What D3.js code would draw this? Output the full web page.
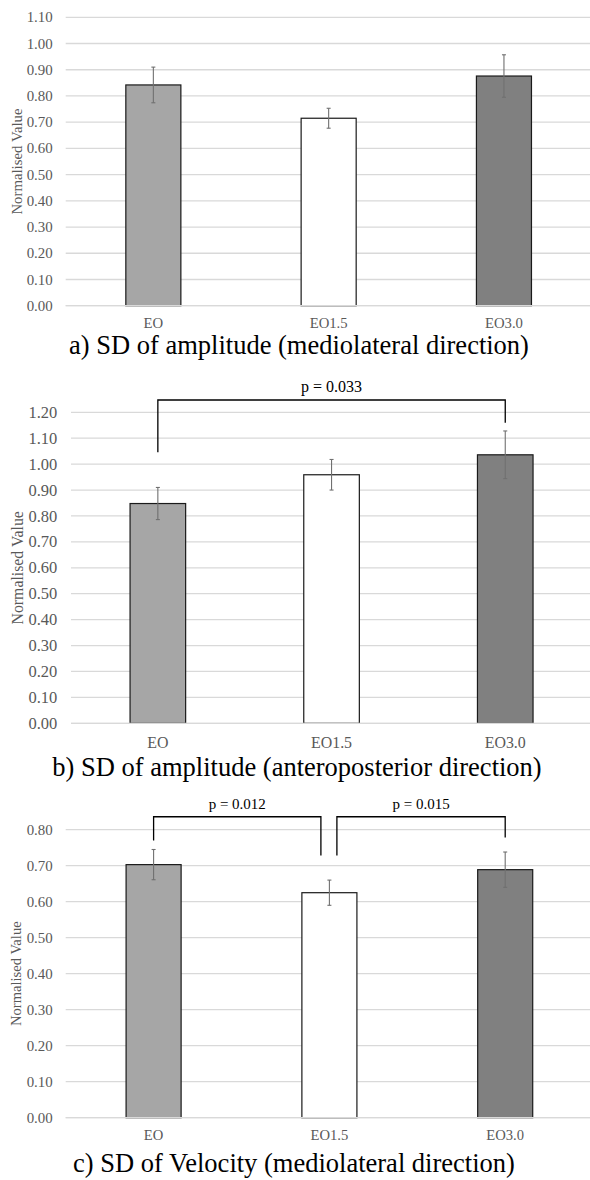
<!DOCTYPE html>
<html>
<head>
<meta charset="utf-8">
<script src="https://cdn.jsdelivr.net/npm/d3@7/dist/d3.min.js"></script>
<style>
  html, body { margin: 0; padding: 0; background: #ffffff; }
  svg { display: block; }
  text { font-family: "Liberation Serif", "Times New Roman", serif; }
</style>
</head>
<body>
<svg id="chart" width="590" height="1180"></svg>
<script>
// Conditions shown on every panel
const categories = ["EO", "EO1.5", "EO3.0"];
const barColors = ["#a6a6a6", "#ffffff", "#808080"];

// a) SD of amplitude, mediolateral
const mlAmpMeans = [0.842, 0.715, 0.876];
const mlAmpErrors = [0.068, 0.038, 0.081];
const mlAmpTicks = [0, 0.1, 0.2, 0.3, 0.4, 0.5, 0.6, 0.7, 0.8, 0.9, 1.0, 1.1];

// b) SD of amplitude, anteroposterior
const apAmpMeans = [0.848, 0.959, 1.036];
const apAmpErrors = [0.062, 0.059, 0.092];
const apAmpTicks = [0, 0.1, 0.2, 0.3, 0.4, 0.5, 0.6, 0.7, 0.8, 0.9, 1.0, 1.1, 1.2];
const apAmpPairs = [[0, 2]];
const apAmpPLabels = ["p = 0.033"];

// c) SD of velocity, mediolateral
const mlVelMeans = [0.703, 0.625, 0.689];
const mlVelErrors = [0.042, 0.035, 0.049];
const mlVelTicks = [0, 0.1, 0.2, 0.3, 0.4, 0.5, 0.6, 0.7, 0.8];
const mlVelPairs = [[0, 1], [1, 2]];
const mlVelPLabels = ["p = 0.012", "p = 0.015"];

const axisTitle = "Normalised Value";

const svg = d3.select("#chart");

const panels = [
  {
    title: "a) SD of amplitude (mediolateral direction)",
    means: mlAmpMeans, errors: mlAmpErrors, ticks: mlAmpTicks,
    pairs: [], pLabels: [],
    x0: 65.7, step: 175.3, pad: 0.686,
    yTop: 17.3, yBottom: 305.7, yMax: 1.1,
    tickFont: 14.9, tickRight: 52.7, catFont: 14.7, catOffset: 22.3,
    titleX: 16.5, titleFont: 14.8,
    capY: 354, capX: 299,
    brackets: []
  },
  {
    title: "b) SD of amplitude (anteroposterior direction)",
    means: apAmpMeans, errors: apAmpErrors, ticks: apAmpTicks,
    pairs: apAmpPairs, pLabels: apAmpPLabels,
    x0: 71, step: 173.7, pad: 0.68,
    yTop: 412.3, yBottom: 723.3, yMax: 1.2,
    tickFont: 16.5, tickRight: 57.3, catFont: 15.9, catOffset: 25,
    titleX: 18, titleFont: 15.8,
    capY: 776, capX: 297,
    brackets: [{ top: 1.2475, legs: [1.046, 1.16], shift: [0, 0] }],
    pFont: 16
  },
  {
    title: "c) SD of Velocity (mediolateral direction)",
    means: mlVelMeans, errors: mlVelErrors, ticks: mlVelTicks,
    pairs: mlVelPairs, pLabels: mlVelPLabels,
    x0: 65.7, step: 175.8, pad: 0.687,
    yTop: 829.7, yBottom: 1117.7, yMax: 0.8,
    tickFont: 14.9, tickRight: 52.7, catFont: 14.6, catOffset: 22.3,
    titleX: 16.3, titleFont: 14.6,
    capY: 1172, capX: 294,
    brackets: [
      { top: 0.836, legs: [0.77, 0.728], shift: [0, -8.5] },
      { top: 0.836, legs: [0.728, 0.778], shift: [7.5, 0] }
    ],
    pFont: 15
  }
];

panels.forEach(p => {
  const g = svg.append("g");

  const x = d3.scaleBand()
    .domain(categories)
    .range([p.x0, p.x0 + p.step * categories.length])
    .paddingInner(p.pad)
    .paddingOuter(p.pad / 2);

  const y = d3.scaleLinear()
    .domain([0, p.yMax])
    .range([p.yBottom, p.yTop]);

  // horizontal gridlines
  g.append("g").selectAll("line")
    .data(p.ticks)
    .join("line")
    .attr("x1", x.range()[0])
    .attr("x2", x.range()[1])
    .attr("y1", d => y(d))
    .attr("y2", d => y(d))
    .attr("stroke", "#d9d9d9")
    .attr("stroke-width", 1.3);

  // y tick labels
  g.append("g").selectAll("text")
    .data(p.ticks)
    .join("text")
    .attr("x", p.tickRight)
    .attr("y", d => y(d))
    .attr("dy", "0.34em")
    .attr("text-anchor", "end")
    .attr("font-size", p.tickFont)
    .attr("fill", "#595959")
    .text(d3.format(".2f"));

  // y axis title
  g.append("text")
    .attr("transform", `translate(${p.titleX},${(p.yTop + p.yBottom) / 2}) rotate(-90)`)
    .attr("text-anchor", "middle")
    .attr("dy", "0.34em")
    .attr("font-size", p.titleFont)
    .attr("fill", "#595959")
    .text(axisTitle);

  // bars
  g.append("g").selectAll("rect")
    .data(p.means)
    .join("rect")
    .attr("x", (d, i) => x(categories[i]))
    .attr("y", d => y(d))
    .attr("width", x.bandwidth())
    .attr("height", d => y(0) - y(d))
    .attr("fill", (d, i) => barColors[i])
    .attr("stroke", "#1a1a1a")
    .attr("stroke-width", 1.2);

  // baseline gridline drawn over the bar bottoms
  g.append("line")
    .attr("x1", x.range()[0]).attr("x2", x.range()[1])
    .attr("y1", y(0)).attr("y2", y(0))
    .attr("stroke", "#d9d9d9").attr("stroke-width", 1.3);

  // error bars
  const eb = g.append("g").attr("stroke", "#707070").attr("stroke-width", 1.1);
  p.means.forEach((m, i) => {
    const cx = x(categories[i]) + x.bandwidth() / 2;
    const hi = y(m + p.errors[i]);
    const lo = y(m - p.errors[i]);
    eb.append("line").attr("x1", cx).attr("x2", cx).attr("y1", hi).attr("y2", lo);
    eb.append("line").attr("x1", cx - 2).attr("x2", cx + 2).attr("y1", hi).attr("y2", hi);
    eb.append("line").attr("x1", cx - 2).attr("x2", cx + 2).attr("y1", lo).attr("y2", lo);
  });

  // category labels
  g.append("g").selectAll("text")
    .data(categories)
    .join("text")
    .attr("x", d => x(d) + x.bandwidth() / 2)
    .attr("y", y(0) + p.catOffset)
    .attr("text-anchor", "middle")
    .attr("font-size", p.catFont)
    .attr("fill", "#595959")
    .text(d => d);

  // significance brackets
  p.pairs.forEach((pair, k) => {
    const b = p.brackets[k];
    const xa = x(categories[pair[0]]) + x.bandwidth() / 2 + b.shift[0];
    const xb = x(categories[pair[1]]) + x.bandwidth() / 2 + b.shift[1];
    const yt = y(b.top);
    g.append("path")
      .attr("d", `M${xa},${y(b.legs[0])}V${yt}H${xb}V${y(b.legs[1])}`)
      .attr("fill", "none")
      .attr("stroke", "#000000")
      .attr("stroke-width", 1.3);
    g.append("text")
      .attr("x", (xa + xb) / 2)
      .attr("y", yt - 8)
      .attr("text-anchor", "middle")
      .attr("font-size", p.pFont)
      .attr("fill", "#000000")
      .text(p.pLabels[k]);
  });

  // panel caption
  g.append("text")
    .attr("x", p.capX)
    .attr("y", p.capY)
    .attr("text-anchor", "middle")
    .attr("font-size", 26.5)
    .attr("fill", "#000000")
    .text(p.title);
});
</script>
</body>
</html>
